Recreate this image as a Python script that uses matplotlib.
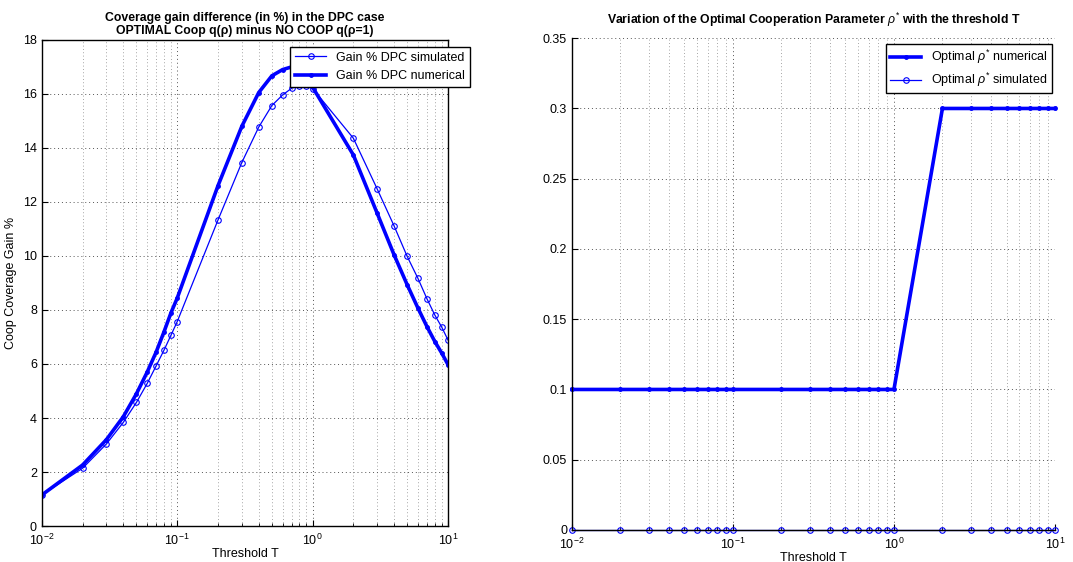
import numpy as np
import matplotlib
matplotlib.use("Agg")
import matplotlib.pyplot as plt
from matplotlib.ticker import LogLocator, MultipleLocator

plt.rcParams['font.family'] = ['Liberation Sans', 'DejaVu Sans']
plt.rcParams['mathtext.fontset'] = 'custom'
plt.rcParams['mathtext.rm'] = 'Liberation Sans'
plt.rcParams['mathtext.it'] = 'Liberation Sans:italic'
plt.rcParams['font.size'] = 8

threshold = [0.01, 0.02, 0.03, 0.04, 0.05, 0.06, 0.07, 0.08, 0.09,
             0.1, 0.2, 0.3, 0.4, 0.5, 0.6, 0.7, 0.8, 0.9,
             1, 2, 3, 4, 5, 6, 7, 8, 9, 10]

gain_simulated = [1.15, 2.14, 3.04, 3.84, 4.58, 5.28, 5.94, 6.52, 7.07,
                  7.57, 11.33, 13.46, 14.77, 15.57, 15.96, 16.21, 16.30, 16.28,
                  16.20, 14.36, 12.48, 11.11, 9.98, 9.17, 8.41, 7.81, 7.36, 6.89]

gain_numerical = [1.15, 2.26, 3.20, 4.05, 4.90, 5.70, 6.45, 7.20, 7.90,
                  8.44, 12.60, 14.80, 16.05, 16.67, 16.90, 17.00, 16.92, 16.70,
                  16.25, 13.74, 11.58, 10.04, 8.93, 8.07, 7.38, 6.83, 6.40, 5.98]

rho_numerical = [0.1] * 19 + [0.3] * 9
rho_simulated = [0.0] * 28


def style_axes(ax):
    ax.set_xscale('log')
    ax.set_xlim(0.01, 10)
    ax.xaxis.set_major_locator(LogLocator(base=10, numticks=10))
    ax.xaxis.set_minor_locator(LogLocator(base=10, subs=np.arange(2, 10), numticks=20))
    ax.grid(True, which='major', linestyle=(0, (1, 3)), color='#555555', linewidth=0.7)
    ax.grid(True, which='minor', axis='x', linestyle=(0, (1, 3)), color='#888888', linewidth=0.6)
    ax.tick_params(which='both', direction='in', labelsize=9)
    ax.tick_params(which='major', length=4)
    ax.tick_params(which='minor', length=2)
    ax.tick_params(axis='x', which='major', pad=5)
    for s in ax.spines.values():
        s.set_linewidth(1.0)


fig = plt.figure(figsize=(10.73, 5.62), dpi=100)

# left: coverage gain
ax1 = fig.add_axes([0.039, 0.064, 0.3785, 0.865])
ax1.plot(threshold, gain_simulated, color='blue', linewidth=0.9, marker='o',
         markersize=4, markerfacecolor='none', markeredgewidth=0.8,
         label='Gain % DPC simulated')
ax1.plot(threshold, gain_numerical, color='blue', linewidth=2.6, marker='.',
         markersize=5, label='Gain % DPC numerical')
style_axes(ax1)
ax1.set_ylim(0, 18)
ax1.yaxis.set_major_locator(MultipleLocator(2))
ax1.set_xlabel('Threshold T', fontsize=9, labelpad=0)
ax1.set_ylabel('Coop Coverage Gain %', fontsize=9, labelpad=4)
ax1.set_title('Coverage gain difference (in %) in the DPC case\n'
              'OPTIMAL Coop q(\u03c1) minus NO COOP q(\u03c1=1)',
              fontsize=8.8, fontweight='bold', pad=4, linespacing=1.1)
leg1 = ax1.legend(loc='upper right', bbox_to_anchor=(1.055, 0.986), borderaxespad=0,
                  fontsize=9, fancybox=False, framealpha=1, edgecolor='black',
                  handlelength=2.5, borderpad=0.4, labelspacing=0.5)
leg1.get_frame().set_linewidth(1.0)

# right: optimal rho
ax2 = fig.add_axes([0.533, 0.057, 0.4502, 0.875])
ax2.plot(threshold, rho_numerical, color='blue', linewidth=2.6, marker='.',
         markersize=5, label=r'Optimal $\rho^{*}$ numerical', clip_on=False)
ax2.plot(threshold, rho_simulated, color='blue', linewidth=0.9, marker='o',
         markersize=4, markerfacecolor='none', markeredgewidth=0.8,
         label=r'Optimal $\rho^{*}$ simulated', clip_on=False)
style_axes(ax2)
ax2.set_ylim(0, 0.35)
ax2.set_yticks([0, 0.05, 0.1, 0.15, 0.2, 0.25, 0.3, 0.35])
ax2.set_yticklabels(['0', '0.05', '0.1', '0.15', '0.2', '0.25', '0.3', '0.35'])
ax2.spines['top'].set_visible(False)
ax2.spines['right'].set_visible(False)
ax2.tick_params(which='both', top=False, right=False)
ax2.set_xlabel('Threshold T', fontsize=9, labelpad=0)
ax2.set_title(r'Variation of the Optimal Cooperation Parameter $\rho^{*}$ with the threshold T',
              fontsize=8.8, fontweight='bold', pad=10)
leg2 = ax2.legend(loc='upper right', bbox_to_anchor=(0.994, 0.988), borderaxespad=0,
                  fontsize=9, fancybox=False, framealpha=1, edgecolor='black',
                  handlelength=2.5, borderpad=0.3, labelspacing=0.4)
leg2.get_frame().set_linewidth(1.0)

fig.savefig('out.png', dpi=100)
